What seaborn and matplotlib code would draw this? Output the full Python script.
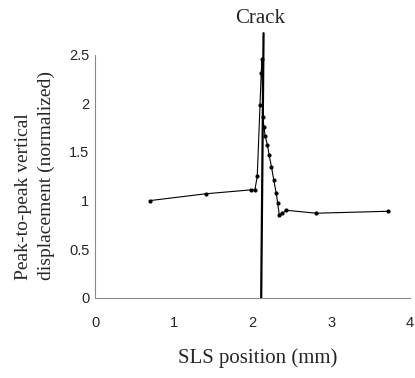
import seaborn as sns
import matplotlib.pyplot as plt
import pandas as pd

# SLS scan across a crack: normalized peak-to-peak vertical displacement
sls_pos = [0.70, 1.41, 1.98, 2.03, 2.06, 2.095, 2.11, 2.12, 2.13, 2.145, 2.16,
           2.19, 2.21, 2.24, 2.27, 2.30, 2.32, 2.34, 2.38, 2.43, 2.81, 3.72]
disp_norm = [1.00, 1.07, 1.11, 1.11, 1.25, 1.98, 2.31, 2.45, 1.86, 1.76, 1.66,
             1.57, 1.47, 1.35, 1.21, 1.08, 0.97, 0.85, 0.87, 0.90, 0.87, 0.89]

# crack location (vertical line)
crack_x = [2.11, 2.14]
crack_y = [0.0, 2.72]

x_ticks = [0, 1, 2, 3, 4]
y_ticks = [0, 0.5, 1, 1.5, 2, 2.5]
y_tick_labels = ['0', '0.5', '1', '1.5', '2', '2.5']

df = pd.DataFrame({'pos': sls_pos, 'disp': disp_norm})

sns.set_style('white')
plt.rcParams['font.family'] = ['Liberation Sans', 'DejaVu Sans']

fig = plt.figure(figsize=(4.15, 3.78), dpi=100)
ax = fig.add_axes([0.229, 0.212, 0.759, 0.695])

sns.lineplot(data=df, x='pos', y='disp', sort=False, marker='o', markersize=3,
             color='black', linewidth=0.8, markeredgewidth=0, ax=ax)
ax.plot(crack_x, crack_y, color='black', linewidth=1.6, clip_on=False)

ax.set_xlim(0, 4)
ax.set_ylim(0, 2.7)
ax.set_xticks(x_ticks)
ax.set_yticks(y_ticks)
ax.set_yticklabels(y_tick_labels)
ax.tick_params(axis='both', direction='in', length=3, width=0.8, color='#777777',
               labelsize=10.5)
ax.tick_params(axis='x', pad=13)
ax.tick_params(axis='y', pad=4)

for side in ['top', 'right']:
    ax.spines[side].set_visible(False)
ax.spines['left'].set_bounds(0, 2.5)
for side in ['left', 'bottom']:
    ax.spines[side].set_color('#888888')
    ax.spines[side].set_linewidth(0.8)

serif = ['Liberation Serif', 'DejaVu Serif']
ax.set_xlabel('SLS position (mm)', family=serif, fontsize=15)
ax.xaxis.set_label_coords(0.517, -0.19)
ax.set_ylabel('')
fig.text(0.084, 0.535, 'Peak-to-peak vertical\ndisplacement (normalized)',
         family=serif, fontsize=14, rotation=90, ha='center', va='center',
         multialignment='left', linespacing=1.4)
ax.text(2.095, 2.83, 'Crack', family=serif, fontsize=15, ha='center',
        va='baseline')

fig.savefig('out.png', dpi=100)
